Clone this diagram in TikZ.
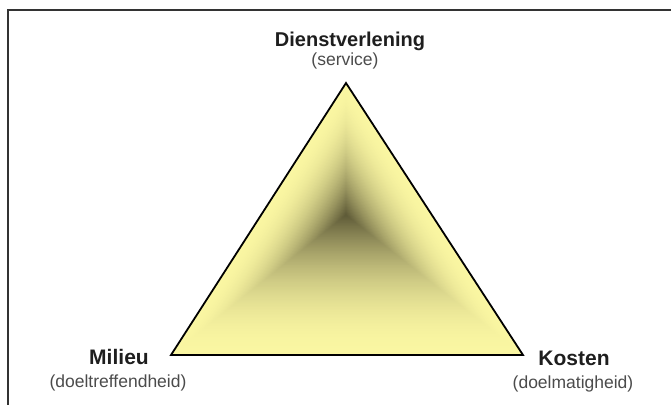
\documentclass[tikz,border=0pt]{standalone}
\usepackage{fontspec}
\setmainfont{Liberation Sans}
\usepackage{tikz}
\usetikzlibrary{calc}
\definecolor{paleyel}{RGB}{250,246,162}
\definecolor{deepolv}{RGB}{92,88,54}
\definecolor{titlegray}{RGB}{30,30,30}
\definecolor{subgray}{RGB}{75,75,75}
\tikzset{
 title/.style={font=\bfseries\fontsize{21bp}{24bp}\selectfont, text=titlegray, inner sep=0, anchor=base},
 sub/.style={font=\fontsize{17.5bp}{20bp}\selectfont, text=subgray, inner sep=0, anchor=base}
}

\begin{document}
\begin{tikzpicture}[x=1bp,y=-1bp]
\useasboundingbox (0,0) rectangle (671,405);
\draw[black!80, line width=1.5] (671,10) -- (8,10) -- (8,405);
\coordinate (top) at (346,83);
\coordinate (lft) at (171,355);
\coordinate (rgt) at (523,355);
\coordinate (ctr) at (346,215);
% nested triangles give the pyramid shading
\foreach \i in {0,...,89} {
 \pgfmathsetmacro{\s}{1-\i/90}
 \pgfmathsetmacro{\m}{100*\s*(2-\s)}
 \fill[paleyel!\m!deepolv] ($(ctr)!\s!(top)$) -- ($(ctr)!\s!(rgt)$) -- ($(ctr)!\s!(lft)$) -- cycle;
}
\draw[black, line width=1.8, line join=miter] (top) -- (rgt) -- (lft) -- cycle;
\node[title, font=\bfseries\fontsize{20bp}{24bp}\selectfont] (dienst) at (350,46) {Dienstverlening};
\node[sub] (service) at (345,65) {(service)};
\node[title] (milieu) at (119,364) {Milieu};
\node[sub] (doeltr) at (118,387) {(doeltreffendheid)};
\node[title] (kosten) at (574,365) {Kosten};
\node[sub] (doelm) at (573,388) {(doelmatigheid)};
\end{tikzpicture}
\end{document}
